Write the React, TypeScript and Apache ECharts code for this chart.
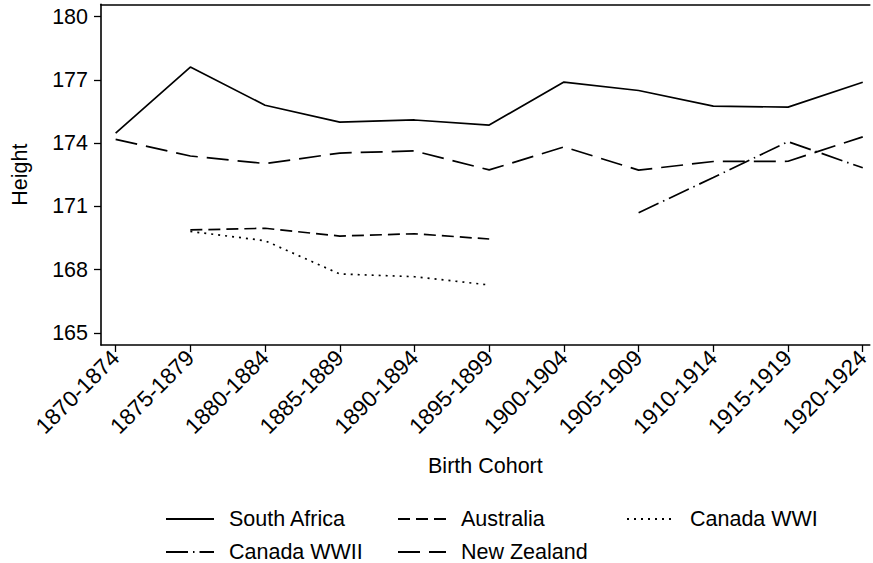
import React, { useEffect, useRef } from "react";
import * as echarts from "echarts";

const categories = [
  "1870-1874", "1875-1879", "1880-1884", "1885-1889", "1890-1894", "1895-1899",
  "1900-1904", "1905-1909", "1910-1914", "1915-1919", "1920-1924",
];
const southAfrica = [174.48, 177.61, 175.8, 175.0, 175.1, 174.86, 176.9, 176.5, 175.76, 175.71, 176.89];
const australia = [null, 169.88, 169.96, 169.59, 169.7, 169.45, null, null, null, null, null];
const canadaWWI = [null, 169.81, 169.37, 167.79, 167.66, 167.27, null, null, null, null, null];
const canadaWWII = [null, null, null, null, null, null, null, 170.7, 172.37, 174.07, 172.83];
const newZealand = [174.18, 173.39, 173.03, 173.53, 173.63, 172.73, 173.82, 172.72, 173.13, 173.14, 174.3];
const yTicks = [165, 168, 171, 174, 177, 180];

const FONT = "'Liberation Sans', Arial, sans-serif";

function toPoints(vals: (number | null)[]) {
  const out: [number, number][] = [];
  vals.forEach((v, i) => {
    if (v !== null) out.push([i, v]);
  });
  return out;
}

export default function App() {
  const ref = useRef<HTMLDivElement>(null);
  useEffect(() => {
    if (!ref.current) return;
    const chart = echarts.init(ref.current, null, { renderer: "svg" });
    const mk = (name: string, vals: (number | null)[], type: any) => ({
      name,
      type: "line",
      data: toPoints(vals),
      symbol: "none",
      showSymbol: false,
      lineStyle: { color: "#000", width: 1.7, type },
      itemStyle: { color: "#000" },
    });
    const legendCommon = {
      orient: "vertical",
      padding: 0,
      itemWidth: 48,
      itemHeight: 20,
      itemGap: 11,
      itemStyle: { color: "rgba(0,0,0,0)", borderColor: "rgba(0,0,0,0)", borderWidth: 0, opacity: 0 },
      textStyle: { fontSize: 21.5, color: "#000", fontFamily: FONT, padding: [0, 0, 0, 10], lineHeight: 20 },
      selectedMode: false,
      top: 508,
      height: 55,
    };
    chart.setOption({
      animation: false,
      backgroundColor: "#fff",
      textStyle: { fontFamily: FONT },
      grid: { left: 101, right: 0, top: 4.3, bottom: 218, containLabel: false },
      xAxis: [
        {
          type: "value",
          min: -0.196,
          max: 10.094,
          splitLine: { show: false },
          axisLine: { show: true, onZero: false, lineStyle: { color: "#000", width: 1.6 } },
          axisTick: { show: true, length: 7, lineStyle: { color: "#000", width: 1.3 }, customValues: categories.map((_, i) => i) },
          axisLabel: {
            customValues: categories.map((_, i) => i),
            formatter: (v: number) => categories[Math.round(v)] ?? "",
            rotate: 45,
            margin: 9,
            fontSize: 22.5,
            color: "#000",
            fontFamily: FONT,
          },
          name: "Birth Cohort",
          nameLocation: "middle",
          nameGap: 110,
          nameTextStyle: { fontSize: 21.5, color: "#000", fontFamily: FONT },
        },
        {
          type: "value",
          position: "top",
          min: 0,
          max: 1,
          splitLine: { show: false },
          axisLine: { show: true, onZero: false, lineStyle: { color: "#000", width: 1.6 } },
          axisTick: { show: false },
          axisLabel: { show: false },
        },
      ],
      yAxis: {
        type: "value",
        min: 164.42,
        max: 180.59,
        splitLine: { show: false },
        axisLine: { show: true, onZero: false, lineStyle: { color: "#000", width: 1.6 } },
        axisTick: { show: true, length: 7, lineStyle: { color: "#000", width: 1.3 }, customValues: yTicks },
        axisLabel: { customValues: yTicks, fontSize: 21.5, color: "#000", margin: 13, fontFamily: FONT },
        name: "Height",
        nameLocation: "middle",
        nameGap: 70,
        nameTextStyle: { fontSize: 21.5, color: "#000", fontFamily: FONT },
      },
      legend: [
        { ...legendCommon, left: 165, data: ["South Africa", "Canada WWII"] },
        { ...legendCommon, left: 397, data: ["Australia", "New Zealand"] },
        { ...legendCommon, left: 626, data: ["Canada WWI"] },
      ],
      series: [
        mk("South Africa", southAfrica, "solid"),
        mk("Australia", australia, [12, 6]),
        mk("Canada WWI", canadaWWI, [2, 5]),
        mk("Canada WWII", canadaWWII, [22, 5, 1.5, 5]),
        mk("New Zealand", newZealand, [22, 9]),
      ],
    });
    return () => chart.dispose();
  }, []);
  return (
    <div
      ref={ref}
      style={{ position: "absolute", left: 0, top: 0, width: 873, height: 563, background: "#fff" }}
    />
  );
}
